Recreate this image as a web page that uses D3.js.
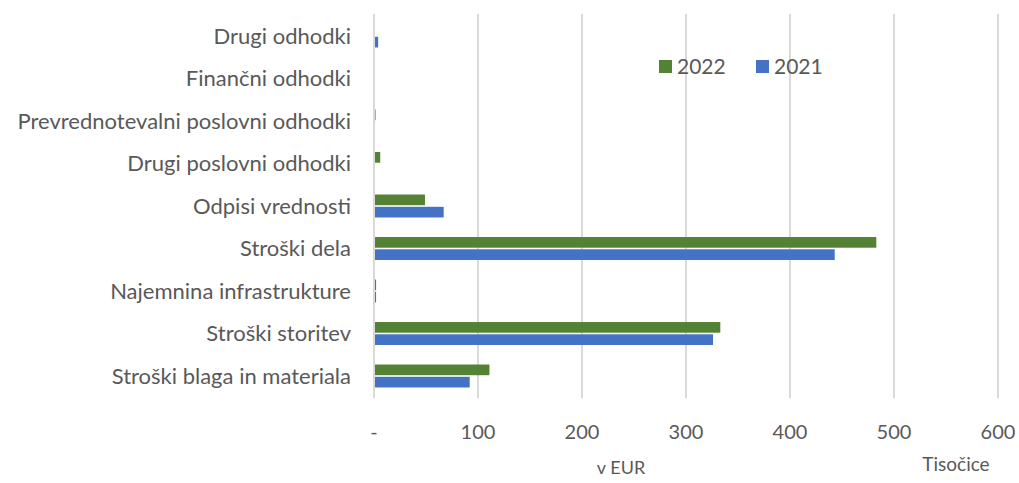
<!DOCTYPE html>
<html>
<head>
  <meta charset="utf8">
  <script src="https://d3js.org/d3.v7.min.js"></script>
  <style>
    body { margin: 0; background: #fff; }
    text { font-family: Lato, sans-serif; fill: #595959; }
  </style>
</head>
<body>
  <svg id="chart" width="1019" height="483"></svg>
  <script>
    var categories = [
      'Drugi odhodki',
      'Finančni odhodki',
      'Prevrednotevalni poslovni odhodki',
      'Drugi poslovni odhodki',
      'Odpisi vrednosti',
      'Stroški dela',
      'Najemnina infrastrukture',
      'Stroški storitev',
      'Stroški blaga in materiala'
    ];
    var values2022 = [0, 0.4, 1.5, 6, 49, 483, 2, 333, 111];
    var values2021 = [4, 0.3, 0.3, 0, 67, 443, 2, 326, 92];
    var seriesNames = ['2022', '2021'];
    var ticks = [0, 100, 200, 300, 400, 500, 600];

    var colors = { '2022': '#548235', '2021': '#4472c4' };

    var svg = d3.select('#chart');

    var x = d3.scaleLinear().domain([0, 600]).range([374, 998]);
    var y = d3.scaleBand().domain(categories).range([14.75, 397.25]).paddingInner(0.46).paddingOuter(0.23);
    var ySub = d3.scaleBand().domain(seriesNames).range([0, y.bandwidth()]).paddingInner(0.13);

    // gridlines
    svg.append('g').selectAll('line')
      .data(ticks.slice(1))
      .enter().append('line')
      .attr('x1', (d) => x(d)).attr('x2', (d) => x(d))
      .attr('y1', 14).attr('y2', 398)
      .attr('stroke', '#d9d9d9').attr('stroke-width', 2);

    // bars
    var rows = categories.map((c, i) => ({ cat: c, vals: [
      { s: '2022', v: values2022[i] },
      { s: '2021', v: values2021[i] }
    ] }));

    var grp = svg.append('g').selectAll('g')
      .data(rows)
      .enter().append('g')
      .attr('transform', (d) => 'translate(0,' + y(d.cat) + ')');

    grp.selectAll('rect')
      .data((d) => d.vals)
      .enter().append('rect')
      .attr('x', x(0))
      .attr('y', (d) => ySub(d.s))
      .attr('width', (d) => x(d.v) - x(0))
      .attr('height', ySub.bandwidth())
      .attr('fill', (d) => colors[d.s]);

    // axis line at zero
    svg.append('line')
      .attr('x1', x(0)).attr('x2', x(0))
      .attr('y1', 14).attr('y2', 398)
      .attr('stroke', '#d9d9d9').attr('stroke-width', 2);

    // category labels
    svg.append('g').selectAll('text')
      .data(categories)
      .enter().append('text')
      .attr('x', 351)
      .attr('y', (d) => y(d) + y.bandwidth() / 2)
      .attr('dy', '0.35em')
      .attr('text-anchor', 'end')
      .style('font-size', '22px')
      .text((d) => d);

    // tick labels
    svg.append('g').selectAll('text')
      .data(ticks)
      .enter().append('text')
      .attr('x', (d) => x(d))
      .attr('y', 439)
      .attr('text-anchor', 'middle')
      .style('font-size', '20px')
      .text((d) => d === 0 ? '-' : d);

    svg.append('text')
      .attr('x', 621).attr('y', 474)
      .attr('text-anchor', 'middle')
      .style('font-size', '18px')
      .text('v EUR');

    svg.append('text')
      .attr('x', 956).attr('y', 471)
      .attr('text-anchor', 'middle')
      .style('font-size', '19px')
      .text('Tisočice');

    // legend
    var legend = svg.append('g').selectAll('g')
      .data(seriesNames)
      .enter().append('g')
      .attr('transform', (d, i) => 'translate(' + (659 + i * 97) + ',60)');
    legend.append('rect')
      .attr('width', 13).attr('height', 13)
      .attr('fill', (d) => colors[d]);
    legend.append('text')
      .attr('x', 18).attr('y', 14)
      .style('font-size', '21px')
      .text((d) => d);
  </script>
</body>
</html>
